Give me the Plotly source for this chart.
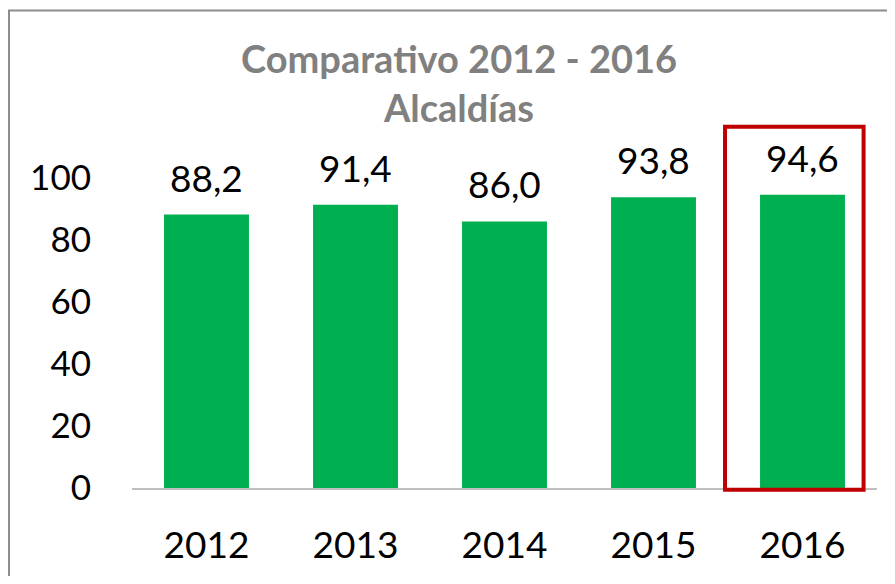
import plotly.graph_objects as go

years = ["2012", "2013", "2014", "2015", "2016"]
values = [88.2, 91.4, 86.0, 93.8, 94.6]
labels = ["88,2", "91,4", "86,0", "93,8", "94,6"]
y_ticks = [0, 20, 40, 60, 80, 100]

# page has an 8px body margin, so the figure is laid out shifted by that
W, H = 879, 568
ml, mr, mt, mb = 124, 10, 170, 85
pw = W - ml - mr
ph = H - mt - mb

font = "Lato, 'Open Sans', sans-serif"

fig = go.Figure()
fig.add_trace(go.Bar(
    x=years,
    y=values,
    marker=dict(color="#00B050", line=dict(width=0)),
    width=0.57,
    hoverinfo="x+y",
))

annotations = []
for i, (v, lab) in enumerate(zip(values, labels)):
    annotations.append(dict(
        x=i, y=v, text=lab, showarrow=False,
        xref="x", yref="y", yanchor="bottom", yshift=13,
        font=dict(family=font, size=37, color="#000000"),
    ))

n = len(years)
shapes = [
    # chart border (left/top edges visible)
    dict(type="rect", xref="paper", yref="paper",
         x0=(1 - ml) / pw, x1=(W + 40 - ml) / pw,
         y0=-(mb + 40) / ph, y1=1 + (mt - 1) / ph,
         line=dict(color="#8C8C8C", width=2), layer="below"),
    # red highlight around 2016
    dict(type="rect", xref="paper", yref="paper",
         x0=(3.48 + 0.5) / n, x1=(4.41 + 0.5) / n, y0=-0.006, y1=1.165,
         line=dict(color="#C00000", width=4)),
]

fig.update_layout(
    width=W, height=H,
    margin=dict(l=ml, r=mr, t=mt, b=mb),
    paper_bgcolor="white", plot_bgcolor="white",
    showlegend=False,
    title=dict(
        text="Comparativo 2012 - 2016<br>Alcaldías",
        x=451 / W, xanchor="center",
        y=1 - 65 / H, yanchor="middle",
        font=dict(family=font, size=38, color="#808080", weight="bold"),
    ),
    bargap=0.43,
    annotations=annotations,
    shapes=shapes,
    xaxis=dict(
        type="category", range=[-0.5, 4.5],
        showgrid=False, showline=True, linecolor="#BFBFBF", linewidth=2,
        ticks="", tickfont=dict(family=font, size=37, color="#000000"),
        ticklabelstandoff=24,
    ),
    yaxis=dict(
        range=[0, 100], tickvals=y_ticks, showgrid=False, showline=False,
        zeroline=False, ticks="",
        tickfont=dict(family=font, size=35, color="#000000"),
        ticklabelstandoff=40,
    ),
)

fig.write_html("out.html")
